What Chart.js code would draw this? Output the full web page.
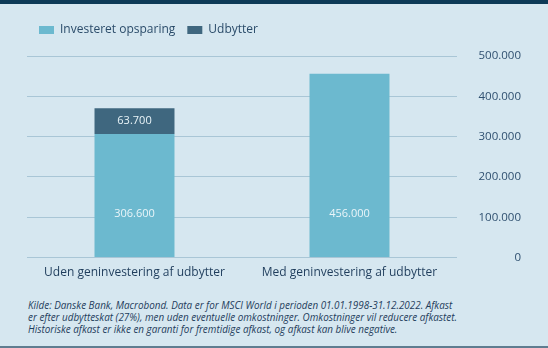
<!DOCTYPE html>
<html>
<head>
<meta charset="utf-8">
<script src="https://cdn.jsdelivr.net/npm/chart.js@4"></script>
<style>
  body { margin: 0; background: #d6e7f0; }
  #wrap { position: relative; width: 548px; height: 348px; overflow: hidden; background: #d6e7f0; }
  #topbar { position: absolute; left: 0; top: 0; width: 548px; height: 4px; background: #0d3a57; }
  #bottombar { position: absolute; left: 0; bottom: 0; width: 548px; height: 2px; background: #5f7d90; }
  #chart { position: absolute; left: 0; top: 0; }
  #note { position: absolute; left: 28px; top: 299px; width: 515px; font-family: "Open Sans", sans-serif; font-style: italic; font-size: 9.9px; line-height: 12px; color: #1f3d5c; white-space: nowrap; }
</style>
</head>
<body>
<div id="wrap">
  <canvas id="chart" width="548" height="292"></canvas>
  <div id="topbar"></div>
  <div id="note">Kilde: Danske Bank, Macrobond. Data er for MSCI World i perioden 01.01.1998-31.12.2022. Afkast<br>er efter udbytteskat (27%), men uden eventuelle omkostninger. Omkostninger vil reducere afkastet.<br>Historiske afkast er ikke en garanti for fremtidige afkast, og afkast kan blive negative.</div>
  <div id="bottombar"></div>
</div>
<script>
const categories = ['Uden geninvestering af udbytter', 'Med geninvestering af udbytter'];
const investeret = [306600, 456000];
const udbytter = [63700, 0];
const yTicks = [0, 100000, 200000, 300000, 400000, 500000];

const fmt = (v) => v.toLocaleString('da-DK');

const labelPlugin = {
  id: 'barLabels',
  afterDatasetsDraw(chart) {
    const ctx = chart.ctx;
    ctx.save();
    ctx.font = '11px "Open Sans", sans-serif';
    ctx.fillStyle = '#eaf5f9';
    ctx.textAlign = 'center';
    ctx.textBaseline = 'middle';
    chart.getDatasetMeta(0).data.forEach((bar, i) => {
      ctx.fillText(fmt(investeret[i]), bar.x, bar.base - 43);
    });
    chart.getDatasetMeta(1).data.forEach((bar, i) => {
      if (udbytter[i] > 0) ctx.fillText(fmt(udbytter[i]), bar.x, (bar.y + bar.base) / 2);
    });
    ctx.restore();
  }
};

// extra space under the legend
const legendGap = {
  id: 'legendGap',
  beforeInit(chart) {
    const fit = chart.legend.fit;
    chart.legend.fit = function () {
      fit.bind(chart.legend)();
      this.height += 10;
    };
  }
};

const ctx = document.getElementById('chart').getContext('2d');
new Chart(ctx, {
  type: 'bar',
  data: {
    labels: categories,
    datasets: [
      { label: 'Investeret opsparing', data: investeret, backgroundColor: '#6cb9cf', barPercentage: 0.372, categoryPercentage: 1 },
      { label: 'Udbytter', data: udbytter, backgroundColor: '#3f677f', barPercentage: 0.372, categoryPercentage: 1 }
    ]
  },
  options: {
    responsive: false,
    animation: false,
    layout: { padding: { left: 27, right: 27, top: 12, bottom: 4 } },
    plugins: {
      legend: {
        align: 'start',
        labels: {
          boxWidth: 15,
          boxHeight: 8,
          padding: 12,
          color: '#2b4c6a',
          font: { family: '"Open Sans", sans-serif', size: 12 }
        }
      },
      tooltip: { enabled: false }
    },
    scales: {
      x: {
        stacked: true,
        grid: { display: false, drawTicks: false },
        border: { display: false },
        ticks: { color: '#1f3d5c', padding: 8, font: { family: '"Open Sans", sans-serif', size: 12 } }
      },
      y: {
        stacked: true,
        position: 'right',
        min: 0,
        max: 500000,
        afterBuildTicks: (axis) => { axis.ticks = yTicks.map(v => ({ value: v })); },
        afterFit: (axis) => { axis.width = 64; },
        grid: { color: '#a9c6d6', drawTicks: false },
        border: { display: false },
        ticks: {
          crossAlign: 'far',
          padding: 10,
          color: '#2f5070',
          font: { family: '"Open Sans", sans-serif', size: 11.5 },
          callback: (v) => fmt(v)
        }
      }
    }
  },
  plugins: [labelPlugin, legendGap]
});
</script>
</body>
</html>
